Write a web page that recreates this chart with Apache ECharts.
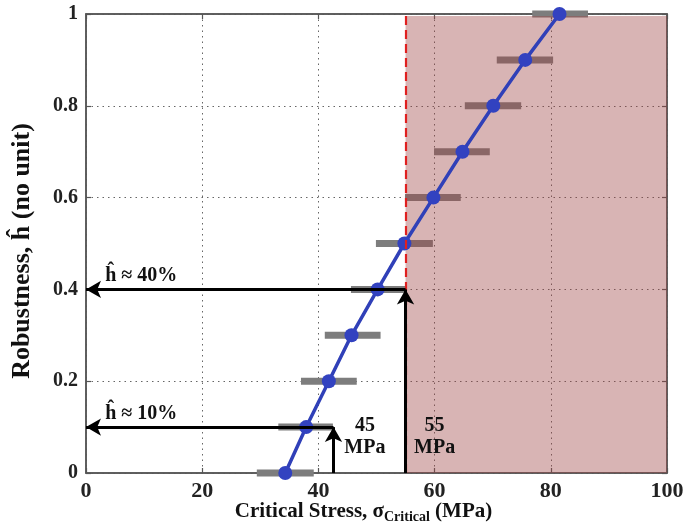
<!DOCTYPE html>
<html>
<head>
<meta charset="utf-8">
<script src="https://cdn.jsdelivr.net/npm/echarts@6/dist/echarts.min.js"></script>
<style>
  html, body { margin: 0; padding: 0; background: #fff; }
  #main { width: 688px; height: 523px; }
</style>
</head>
<body>
<div id="main"></div>
<script>
// robustness levels (y) and critical stress (x)
var robust = [0, 0.1, 0.2, 0.3, 0.4, 0.5, 0.6, 0.7, 0.8, 0.9, 1.0];
var stress = [34.3, 37.9, 41.8, 45.7, 50.2, 54.8, 59.8, 64.8, 70.1, 75.6, 81.5];
// error bar ends
var stressLow = [29.4, 33.1, 37.0, 41.1, 45.6, 49.9, 54.9, 59.9, 65.2, 70.7, 76.8];
var stressHigh = [39.2, 42.5, 46.6, 50.7, 54.9, 59.7, 64.5, 69.5, 74.9, 80.4, 86.4];
// axis ranges
var xMin = 0, xMax = 100, xStep = 20;
var yMin = 0, yMax = 1, yStep = 0.2;
// limit stress and arrows
var limitStress = 55;
var arrowStress = [55, 42.6];
var arrowRobust = [0.4, 0.1];
var noteText = ['ĥ ≈ 40%', 'ĥ ≈ 10%', '45\nMPa', '55\nMPa'];

var serif = "'Liberation Serif', 'DejaVu Serif', serif";

var lineData = [];
var barData = [];
for (var i = 0; i < robust.length; i++) {
    lineData.push([stress[i], robust[i]]);
    barData.push([stressLow[i], stressHigh[i], robust[i]]);
}

var arrowLines = [];
for (var k = 0; k < arrowStress.length; k++) {
    arrowLines.push([{ coord: [arrowStress[k], 0] }, { coord: [arrowStress[k], arrowRobust[k]] }]);
    arrowLines.push([{ coord: [arrowStress[k], arrowRobust[k]] }, { coord: [xMin, arrowRobust[k]] }]);
}

var myChart = echarts.init(document.getElementById('main'));

var axLine = { show: true, onZero: false, lineStyle: { color: '#555', width: 1.5 } };
var axTick = { show: true, inside: true, length: 5, lineStyle: { color: '#555', width: 1.2 } };
var dotGrid = { show: true, lineStyle: { color: '#666', type: [1.5, 4], width: 1 } };

myChart.setOption({
    animation: false,
    grid: {
        left: 86, right: 21, top: 14, bottom: 50,
        outerBoundsMode: 'none',
        show: true, borderColor: '#555', borderWidth: 1.5
    },
    xAxis: [{
        type: 'value', min: xMin, max: xMax, interval: xStep,
        axisLine: axLine, axisTick: axTick, splitLine: dotGrid,
        axisLabel: { color: '#222', fontFamily: serif, fontWeight: 'bold', fontSize: 22, margin: 7 },
        name: '{a|Critical Stress, σ}{s|Critical}{a| (MPa)}',
        nameLocation: 'middle', nameGap: 27, nameMoveOverlap: false,
        nameTextStyle: {
            padding: [0, 26, 0, 0],
            rich: {
                a: { fontFamily: serif, fontWeight: 'bold', fontSize: 21, color: '#111' },
                s: { fontFamily: serif, fontWeight: 'bold', fontSize: 14, color: '#111', padding: [10, 0, 0, 0] }
            }
        }
    }, {
        type: 'value', min: xMin, max: xMax, interval: xStep, position: 'top',
        axisLine: axLine, axisTick: axTick,
        axisLabel: { show: false }, splitLine: { show: false }
    }],
    yAxis: [{
        type: 'value', min: yMin, max: yMax, interval: yStep,
        axisLine: axLine, axisTick: axTick, splitLine: dotGrid,
        axisLabel: { color: '#222', fontFamily: serif, fontWeight: 'bold', fontSize: 20, margin: 8 },
        name: 'Robustness, ĥ (no unit)',
        nameLocation: 'middle', nameGap: 51, nameMoveOverlap: false,
        nameTextStyle: { fontFamily: serif, fontWeight: 'bold', fontSize: 26, color: '#111', padding: [0, 15, 0, 0] }
    }, {
        type: 'value', min: yMin, max: yMax, interval: yStep, position: 'right',
        axisLine: axLine, axisTick: axTick,
        axisLabel: { show: false }, splitLine: { show: false }
    }],
    series: [
        {
            // error bars
            type: 'custom',
            z: 1,
            data: barData,
            renderItem: function (params, api) {
                var p1 = api.coord([api.value(0), api.value(2)]);
                var p2 = api.coord([api.value(1), api.value(2)]);
                return {
                    type: 'rect',
                    shape: { x: p1[0], y: p1[1] - 3.5, width: p2[0] - p1[0], height: 7 },
                    style: { fill: '#7d7d7d' }
                };
            }
        },
        {
            // unsafe region, drawn over the error bars
            type: 'custom',
            z: 2,
            silent: true,
            data: [[limitStress, xMax, yMin, yMax]],
            renderItem: function (params, api) {
                var a = api.coord([api.value(0), api.value(3)]);
                var b = api.coord([api.value(1), api.value(2)]);
                return {
                    type: 'rect',
                    shape: { x: a[0], y: a[1] + 2, width: b[0] - a[0], height: b[1] - a[1] - 2 },
                    style: { fill: 'rgba(158,68,68,0.4)' }
                };
            },
            markLine: {
                silent: true,
                symbol: 'none',
                label: { show: false },
                lineStyle: { color: '#e02020', type: [9, 5], width: 2.2 },
                data: [[{ coord: [limitStress, yMin] }, { coord: [limitStress, yMax] }]]
            }
        },
        {
            type: 'line',
            z: 3,
            data: lineData,
            symbol: 'circle',
            symbolSize: 14,
            lineStyle: { color: '#3040b8', width: 3.5 },
            itemStyle: { color: '#3242c0' }
        },
        {
            // arrows and notes
            type: 'scatter',
            z: 4,
            symbolSize: 0,
            itemStyle: { opacity: 1 },
            data: [
                { value: [3.3, 0.43], label: { formatter: noteText[0], position: 'right', align: 'left' } },
                { value: [3.3, 0.13], label: { formatter: noteText[1], position: 'right', align: 'left' } },
                { value: [48.0, 0.078], label: { formatter: noteText[2], position: 'inside', align: 'center' } },
                { value: [60.0, 0.078], label: { formatter: noteText[3], position: 'inside', align: 'center' } }
            ],
            label: {
                show: true, distance: 0, color: '#111', opacity: 1,
                fontFamily: serif, fontWeight: 'bold', fontSize: 20, lineHeight: 22
            },
            markLine: {
                silent: true,
                symbol: ['none', 'arrow'],
                symbolSize: [13, 15],
                label: { show: false },
                lineStyle: { color: '#000', type: 'solid', width: 3, opacity: 1 },
                data: arrowLines
            }
        }
    ]
});
</script>
</body>
</html>
